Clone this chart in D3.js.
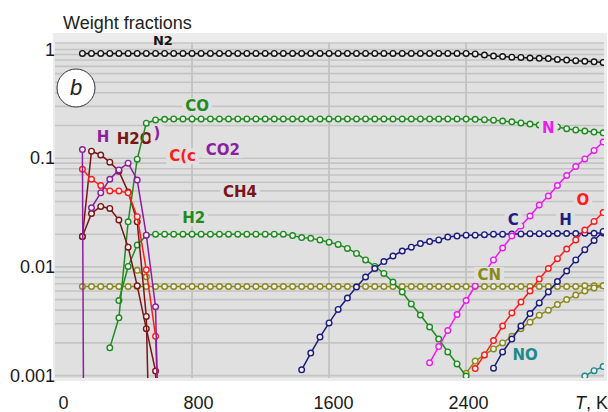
<!DOCTYPE html>
<html>
<head>
<meta charset="utf-8">
<script src="https://cdnjs.cloudflare.com/ajax/libs/d3/7.8.5/d3.min.js"></script>
<style>
  body { margin: 0; background: #fff; }
  svg { display: block; }
</style>
</head>
<body>
<div id="chart"></div>
<script>
// Temperatures, K (one marker every 800/15 K)
var temps = [160, 213, 267, 320, 373, 427, 480, 533, 587, 640,
  693, 747, 800, 853, 907, 960, 1013, 1067, 1120, 1173,
  1227, 1280, 1333, 1387, 1440, 1493, 1547, 1600, 1653, 1707,
  1760, 1813, 1867, 1920, 1973, 2027, 2080, 2133, 2187, 2240,
  2293, 2347, 2400, 2453, 2507, 2560, 2613, 2667, 2720, 2773,
  2827, 2880, 2933, 2987, 3040, 3093, 3147, 3200];

var xTicks = [0, 800, 1600, 2400];
var yTicks = [0.001, 0.01, 0.1, 1];
var yTickLabels = ["0.001", "0.01", "0.1", "1"];

// Weight fractions (each series starts at its own temperature)
var n2 = [0.92, 0.92, 0.92, 0.92, 0.92, 0.92, 0.92, 0.92, 0.92, 0.92,
  0.92, 0.92, 0.92, 0.92, 0.92, 0.92, 0.92, 0.92, 0.92, 0.92,
  0.92, 0.92, 0.92, 0.92, 0.92, 0.92, 0.92, 0.92, 0.92, 0.92,
  0.92, 0.92, 0.92, 0.92, 0.92, 0.92, 0.92, 0.92, 0.92, 0.92,
  0.92, 0.92, 0.92, 0.91, 0.89, 0.87, 0.86, 0.85, 0.845, 0.835,
  0.83, 0.825, 0.81, 0.80, 0.79, 0.78, 0.77, 0.76];

var co = [0.0018, 0.0034, 0.026, 0.098, 0.21, 0.225, 0.228,
  0.23, 0.23, 0.23, 0.23, 0.23, 0.23, 0.23, 0.23, 0.23, 0.23,
  0.23, 0.23, 0.23, 0.23, 0.23, 0.23, 0.23, 0.23, 0.23, 0.23,
  0.23, 0.23, 0.23, 0.23, 0.23, 0.23, 0.23, 0.23, 0.23, 0.23,
  0.23, 0.23, 0.229, 0.228, 0.226, 0.224, 0.22, 0.216, 0.211, 0.206,
  0.202, 0.198, 0.194, 0.187, 0.182, 0.178, 0.174, 0.171];

var h2 = [0.0049, 0.0101, 0.0159, 0.0195, 0.02, 0.02,
  0.02, 0.02, 0.02, 0.02, 0.02, 0.02, 0.02, 0.02, 0.02, 0.02,
  0.02, 0.02, 0.02, 0.0194, 0.0186, 0.0183, 0.0177, 0.0169, 0.0161, 0.0148,
  0.0133, 0.0116, 0.0101, 0.0087, 0.00726, 0.00588, 0.00456, 0.00361, 0.0028, 0.00217,
  0.00165, 0.00128, 0.00099];

var cn = [0.0066, 0.0066, 0.0066, 0.0066, 0.0066, 0.0066, 0.0066, 0.0066, 0.0066, 0.0066,
  0.0066, 0.0066, 0.0066, 0.0066, 0.0066, 0.0066, 0.0066, 0.0066, 0.0066, 0.0066,
  0.0066, 0.0066, 0.0066, 0.0066, 0.0066, 0.0066, 0.0066, 0.0066, 0.0066, 0.0066,
  0.0066, 0.0066, 0.0066, 0.0066, 0.0066, 0.0066, 0.0066, 0.0066, 0.0066, 0.0066,
  0.0066, 0.0066, 0.0066, 0.0066, 0.0066, 0.0066, 0.0066, 0.0066, 0.0066, 0.0066,
  0.0066, 0.0066, 0.0066, 0.0066, 0.0066, 0.0067, 0.0067, 0.0067];

var hcn = [0.00105, 0.00136, 0.00155, 0.00176, 0.0020, 0.0023, 0.0027, 0.0031,
  0.0036, 0.0040, 0.0045, 0.0050, 0.0055, 0.0060, 0.0064, 0.0067];

var hcnLow = [0.0093, 0.0081];

var cAtom = [0.00113, 0.00161, 0.00226, 0.00305, 0.00406, 0.00517,
  0.00653, 0.00807, 0.00967, 0.0112, 0.0126, 0.0140, 0.0152, 0.0164, 0.0171, 0.0177,
  0.0188, 0.0192, 0.0196, 0.0196, 0.0198, 0.02, 0.02, 0.0201, 0.0201, 0.0202,
  0.0202, 0.0202, 0.0203, 0.0203, 0.0203, 0.0204, 0.0204, 0.0205];

var nAtom = [0.00131, 0.00185, 0.0026, 0.00365, 0.00491, 0.00667, 0.00887, 0.0116, 0.0149, 0.0192,
  0.0238, 0.0294, 0.0371, 0.0449, 0.0561, 0.0693, 0.0839, 0.0984, 0.118, 0.141];

var oAtom = [0.00116, 0.00155, 0.0021, 0.00286, 0.00377, 0.00475, 0.0060, 0.00773,
  0.00966, 0.0119, 0.0146, 0.0177, 0.0218, 0.0262, 0.0316];

var hAtom = [0.00117, 0.00165, 0.00217, 0.00286, 0.00372, 0.00466, 0.00588,
  0.00734, 0.00917, 0.0116, 0.0144, 0.0175, 0.0212];

var no = [0.00099, 0.00111, 0.00121];

var hLow = [0.12, 1e-20];
var co2 = [0.035, 0.048, 0.064, 0.078, 0.090, 0.063, 0.0196, 0.0043, 1e-6];
var h2o = [0.019, 0.116, 0.107, 0.092, 0.076, 0.049, 0.026, 0.0035, 1e-6];
var ch4 = [0.019, 0.031, 0.036, 0.0345, 0.027, 0.0152, 0.0067, 0.0027, 0.0011, 1e-6];
var cSolid = [0.079, 0.064, 0.056, 0.050, 0.050, 0.048, 0.029, 0.0094, 0.0023, 1e-5];

var colors = {
  black: "#151515", green: "#1f8c1f", olive: "#8a8a1c", navy: "#1d1d80",
  magenta: "#ee1bee", red: "#ff1c1c", purple: "#8c1ea0", brown: "#7a1616", teal: "#1c8a8a"
};

// series drawn in this order: [values, first temperature, colour]
var seriesList = [
  [cn, 160, colors.olive],
  [hcn, 2400, colors.olive],
  [hcnLow, 480, colors.olive],
  [n2, 160, colors.black],
  [h2, 373, colors.green],
  [co, 320, colors.green],
  [ch4, 160, colors.brown],
  [h2o, 160, colors.brown],
  [cSolid, 160, colors.red],
  [co2, 213, colors.purple],
  [hLow, 160, colors.purple],
  [cAtom, 1440, colors.navy],
  [nAtom, 2187, colors.magenta],
  [oAtom, 2453, colors.red],
  [hAtom, 2560, colors.navy],
  [no, 3093, colors.teal]
];

// curve labels: text, temperature, fraction, colour, drawn under the lines?
var curveLabels = [
  ["H2O", 465, 0.135, colors.brown, true],
  [")", 595, 0.153, colors.purple, true],
  ["N2", 630, 1.09, colors.black, false],
  ["CO", 830, 0.272, colors.green, false],
  ["H", 280, 0.141, colors.purple, false],
  ["C(c", 745, 0.094, colors.red, false],
  ["CO2", 980, 0.107, colors.purple, false],
  ["CH4", 1080, 0.044, colors.brown, false],
  ["H2", 810, 0.0253, colors.green, false],
  ["N", 2880, 0.171, colors.magenta, false],
  ["C", 2675, 0.0243, colors.navy, false],
  ["H", 2980, 0.0243, colors.navy, false],
  ["O", 3082, 0.0371, colors.red, false],
  ["CN", 2535, 0.00758, colors.olive, false],
  ["NO", 2744, 0.00139, colors.teal, false]
];

var svgWidth = 608;
var svgHeight = 412;
var plot = { left: 55, right: 604, top: 42, bottom: 378 };
var plotBg = "#e0e0e0";

var svg = d3.select("#chart")
  .append("svg")
  .attr("width", svgWidth)
  .attr("height", svgHeight)
  .style("font-family", "'Liberation Sans', Arial, sans-serif");

var x = d3.scaleLinear().domain([0, 3205]).range([plot.left, plot.right]);
var y = d3.scaleLog().domain([0.001, 1]).range([375.6, 49.5]);
// tick labels sit a little off the gridlines in the original
var xLabel = d3.scaleLinear().domain([0, 2400]).range([63, 468]);

// frame and plot background
svg.append("rect")
  .attr("x", 53).attr("y", 33)
  .attr("width", 554).attr("height", 348)
  .attr("fill", "#ececec");
svg.append("rect")
  .attr("x", plot.left).attr("y", plot.top)
  .attr("width", plot.right - plot.left).attr("height", plot.bottom - plot.top)
  .attr("fill", plotBg);

svg.append("clipPath").attr("id", "clip")
  .append("rect")
  .attr("x", plot.left).attr("y", plot.top)
  .attr("width", plot.right - plot.left).attr("height", plot.bottom - plot.top);

// gridlines
var grid = svg.append("g").attr("clip-path", "url(#clip)");
grid.selectAll(".hgrid")
  .data(y.ticks())
  .enter()
  .append("line")
  .attr("x1", plot.left).attr("x2", plot.right)
  .attr("y1", d => y(d)).attr("y2", d => y(d))
  .attr("stroke", "#c4c4c4")
  .attr("stroke-width", 1.6);
grid.selectAll(".vgrid")
  .data(xTicks.slice(1))
  .enter()
  .append("line")
  .attr("x1", d => x(d)).attr("x2", d => x(d))
  .attr("y1", plot.top).attr("y2", plot.bottom)
  .attr("stroke", "#c2c2c2")
  .attr("stroke-width", 1.8);
grid.append("line")
  .attr("x1", plot.left).attr("x2", plot.right)
  .attr("y1", plot.top + 1).attr("y2", plot.top + 1)
  .attr("stroke", "#c8c8c8").attr("stroke-width", 1.5);

function drawLabels(group, list) {
  list.forEach(function(lab) {
    var g = group.append("g");
    var small = lab[0] === "N2";
    var t = g.append("text")
      .attr("x", x(lab[1]))
      .attr("y", y(lab[2]))
      .attr("text-anchor", "middle")
      .attr("fill", lab[3])
      .style("font-family", "'DejaVu Sans', Verdana, sans-serif")
      .style("font-weight", "bold")
      .style("font-size", small ? "13px" : "15px")
      .text(lab[0]);
    if (!small) {
      var bb = t.node().getBBox();
      g.insert("rect", "text")
        .attr("x", bb.x - 3).attr("y", bb.y + 1)
        .attr("width", bb.width + 6).attr("height", bb.height - 2)
        .attr("fill", plotBg);
    }
  });
}

var underLabels = svg.append("g");
drawLabels(underLabels, curveLabels.filter(d => d[4]));

// series lines and open circle markers
var lineLayer = svg.append("g").attr("clip-path", "url(#clip)");
var drawLine = d3.line()
  .x(d => x(d.t))
  .y(d => y(d.v));

seriesList.forEach(function(s) {
  var startIdx = temps.indexOf(s[1]);
  var pts = s[0].map(function(v, i) {
    return { t: temps[startIdx + i], v: v };
  });
  var g = lineLayer.append("g");
  g.append("path")
    .attr("d", drawLine(pts))
    .attr("fill", "none")
    .attr("stroke", s[2])
    .attr("stroke-width", 1.5);
  g.selectAll("circle")
    .data(pts)
    .enter()
    .append("circle")
    .attr("cx", d => x(d.t))
    .attr("cy", d => y(d.v))
    .attr("r", 2.8)
    .attr("fill", "#f0f0f0")
    .attr("stroke", s[2])
    .attr("stroke-width", 1.4);
});

var overLabels = svg.append("g");
drawLabels(overLabels, curveLabels.filter(d => !d[4]));

// "b" panel marker
svg.append("circle")
  .attr("cx", 76).attr("cy", 88).attr("r", 19)
  .attr("fill", "#fff").attr("stroke", "#333").attr("stroke-width", 1);
svg.append("text")
  .attr("x", 76).attr("y", 95)
  .attr("text-anchor", "middle")
  .style("font-style", "italic")
  .style("font-size", "22px")
  .attr("fill", "#222")
  .text("b");

// axes (labels only)
var leftAxis = d3.axisLeft(y)
  .tickValues(yTicks)
  .tickFormat((d, i) => yTickLabels[i])
  .tickSize(0)
  .tickPadding(0);
var yAxisG = svg.append("g")
  .attr("transform", "translate(" + plot.left + ",0)")
  .call(leftAxis);

var bottomAxis = d3.axisBottom(xLabel)
  .tickValues(xTicks)
  .tickFormat(d3.format("d"))
  .tickSize(0)
  .tickPadding(0);
var xAxisG = svg.append("g")
  .attr("transform", "translate(0,396)")
  .call(bottomAxis);

[yAxisG, xAxisG].forEach(function(g) {
  g.select(".domain").remove();
  g.selectAll("text")
    .style("font-family", "'Liberation Sans', Arial, sans-serif")
    .style("font-size", "18px")
    .attr("fill", "#1a1a1a");
});

// axis titles
svg.append("text")
  .attr("x", 63).attr("y", 29)
  .style("font-size", "18px")
  .attr("fill", "#222")
  .text("Weight fractions");

var tk = svg.append("text")
  .attr("x", 575).attr("y", 409)
  .style("font-size", "18px")
  .attr("fill", "#1a1a1a");
tk.append("tspan").style("font-style", "italic").text("T");
tk.append("tspan").text(", K");
</script>
</body>
</html>
